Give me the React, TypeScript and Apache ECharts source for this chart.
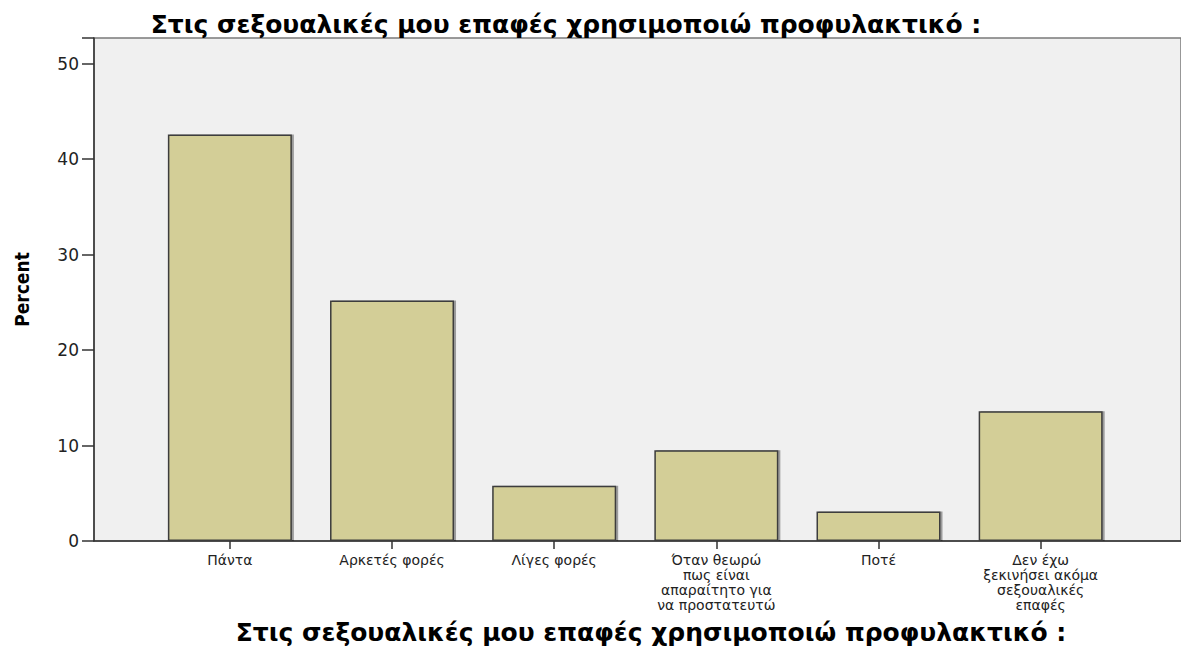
import React, { useEffect, useRef } from "react";
import * as echarts from "echarts";

const categories = [
  "Πάντα",
  "Αρκετές φορές",
  "Λίγες φορές",
  "Όταν θεωρώ\nπως είναι\nαπαραίτητο για\nνα προστατευτώ",
  "Ποτέ",
  "Δεν έχω\nξεκινήσει ακόμα\nσεξουαλικές\nεπαφές",
];
const percentValues = [42.6, 25.2, 5.8, 9.5, 3.1, 13.6];
const yTicks = [0, 10, 20, 30, 40, 50];
const titleText = "Στις σεξουαλικές μου επαφές χρησιμοποιώ προφυλακτικό :";
const yAxisTitle = "Percent";

export default function App() {
  const ref = useRef<HTMLDivElement>(null);
  useEffect(() => {
    if (!ref.current) return;
    const chart = echarts.init(ref.current, undefined, { renderer: "svg" });
    const gridLeft = 94;
    const gridWidth = 1096;
    const spacing = 163.5;
    const firstCenter = 231;
    const xMin = -(firstCenter - gridLeft) / spacing;
    const xMax = xMin + gridWidth / spacing;
    const idx = categories.map((_, i) => i);
    chart.setOption({
      animation: false,
      backgroundColor: "#ffffff",
      grid: {
        left: gridLeft,
        top: 38,
        width: gridWidth,
        bottom: 105,
        show: true,
        backgroundColor: "#F0F0F0",
        borderColor: "#7a7a7a",
        borderWidth: 1.5,
      },
      xAxis: {
        type: "value",
        min: xMin,
        max: xMax,
        splitLine: { show: false },
        axisLine: { show: true, onZero: false, lineStyle: { color: "#333", width: 1.5 } },
        axisTick: {
          show: true,
          length: 8,
          lineStyle: { color: "#333", width: 1.5 },
          customValues: idx,
        },
        axisLabel: {
          customValues: idx,
          formatter: (v: number) => categories[Math.round(v)] ?? "",
          color: "#222",
          fontFamily: "DejaVu Sans, Verdana, sans-serif",
          fontSize: 14,
          lineHeight: 15,
          margin: 11,
          align: "center",
        },
      },
      yAxis: {
        type: "value",
        min: 0,
        max: 52.7,
        interval: 10,
        name: yAxisTitle,
        nameLocation: "middle",
        nameRotate: 90,
        nameGap: 63,
        nameTextStyle: {
          fontFamily: "DejaVu Sans Condensed, DejaVu Sans, sans-serif",
          fontWeight: "bold",
          fontSize: 19,
          color: "#000",
        },
        splitLine: { show: false },
        axisLine: { show: true, onZero: false, lineStyle: { color: "#333", width: 1.5 } },
        axisTick: { show: true, length: 12, lineStyle: { color: "#333", width: 1.5 } },
        axisLabel: {
          customValues: yTicks,
          color: "#222",
          fontFamily: "DejaVu Sans, Verdana, sans-serif",
          fontSize: 17,
          margin: 15,
        },
      },
      series: [
        {
          type: "bar",
          data: percentValues.map((v, i) => [i, v]),
          barWidth: 124,
          itemStyle: {
            color: "#D3CE97",
            borderColor: "#3c3c3c",
            borderWidth: 1.5,
            shadowColor: "rgba(0,0,0,0.35)",
            shadowOffsetX: 2,
            shadowBlur: 0,
          },
        },
      ],
      graphic: [
        {
          type: "text",
          x: 566,
          y: 24,
          style: {
            text: titleText,
            fontFamily: "DejaVu Sans, Verdana, sans-serif",
            fontWeight: "bold",
            fontSize: 25,
            fill: "#000",
            textAlign: "center",
            textVerticalAlign: "middle",
          },
        },
        {
          type: "text",
          x: 651,
          y: 632,
          style: {
            text: titleText,
            fontFamily: "DejaVu Sans, Verdana, sans-serif",
            fontWeight: "bold",
            fontSize: 25,
            fill: "#000",
            textAlign: "center",
            textVerticalAlign: "middle",
          },
        },
      ],
    });
    return () => chart.dispose();
  }, []);
  return (
    <div
      ref={ref}
      style={{ position: "fixed", left: 0, top: 0, width: 1181, height: 646 }}
    />
  );
}
